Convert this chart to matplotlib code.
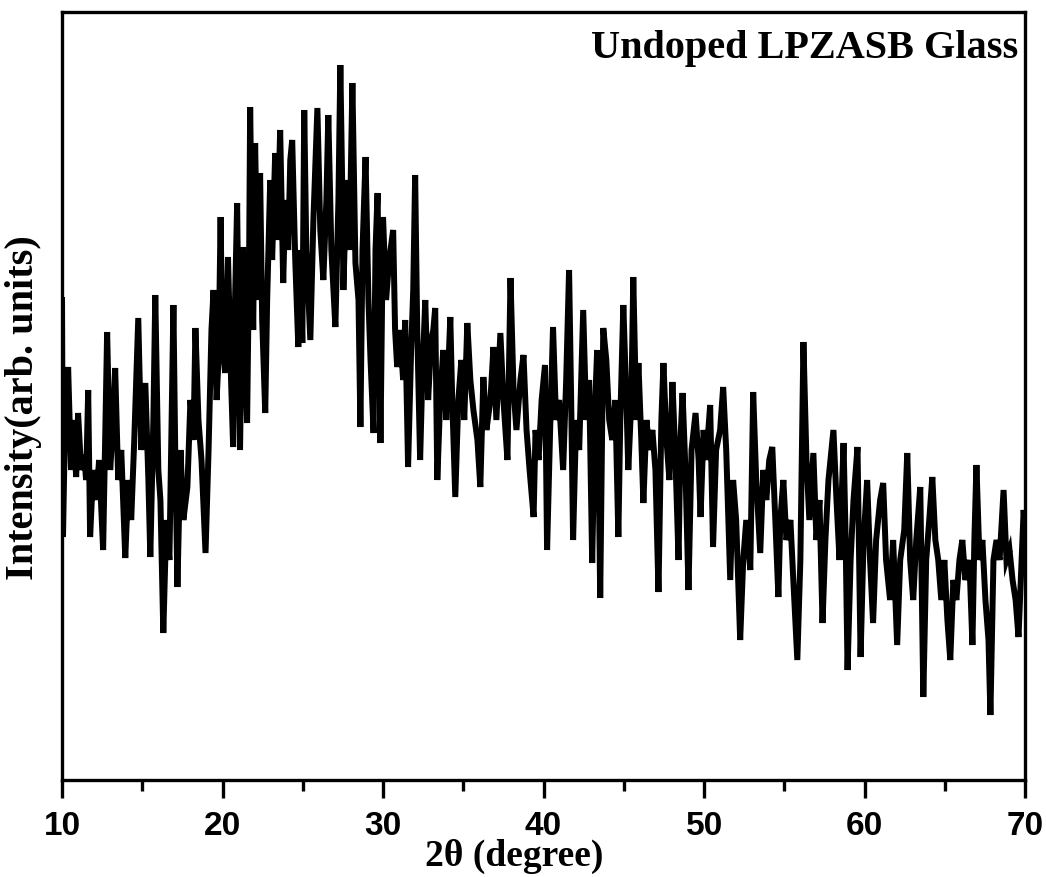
import matplotlib
matplotlib.use('Agg')
import matplotlib.pyplot as plt
from matplotlib.ticker import MultipleLocator

# 2theta positions (degree) and intensities (arb. units)
two_theta = [
    10.00, 10.06, 10.19, 10.38, 10.56, 10.69, 10.88, 11.00, 11.19, 11.38, 11.50, 11.63, 11.75, 11.94,
    12.13, 12.31, 12.56, 12.81, 13.00, 13.19, 13.31, 13.50, 13.69, 13.94, 14.13, 14.31, 14.50, 14.75,
    14.94, 15.19, 15.38, 15.50, 15.69, 15.81, 16.00, 16.13, 16.31, 16.50, 16.69, 16.94, 17.06, 17.19,
    17.38, 17.56, 17.81, 18.00, 18.19, 18.31, 18.50, 18.69, 18.94, 19.13, 19.31, 19.44, 19.63, 19.75,
    19.88, 19.97,
    20.16, 20.34, 20.53, 20.66, 20.78, 20.91, 21.03, 21.09, 21.22, 21.28, 21.41, 21.53, 21.66, 21.72,
    21.84, 21.91, 22.03, 22.16, 22.22, 22.34, 22.47, 22.66, 22.78, 22.97, 23.09, 23.28, 23.41, 23.59,
    23.78, 23.91, 24.09, 24.22, 24.34, 24.53, 24.72, 24.84, 24.97, 25.09, 25.22, 25.47, 25.66, 25.91,
    26.09, 26.28, 26.47, 26.59, 26.78, 27.03, 27.22, 27.34, 27.47, 27.53, 27.72, 27.91, 28.09, 28.28,
    28.47, 28.59, 28.72, 28.91, 29.09, 29.22, 29.41, 29.53, 29.66, 29.84,
    30.00, 30.19, 30.38, 30.63, 30.75, 30.88, 31.06, 31.25, 31.38, 31.56, 31.75, 31.88, 32.00, 32.13,
    32.31, 32.44, 32.63, 32.81, 33.00, 33.13, 33.25, 33.38, 33.56, 33.75, 33.94, 34.19, 34.31, 34.50,
    34.69, 34.88, 35.06, 35.25, 35.44, 35.63, 35.88, 36.06, 36.25, 36.44, 36.69, 36.88, 37.06, 37.31,
    37.50, 37.75, 37.94, 38.13, 38.31, 38.56, 38.75, 38.94, 39.13, 39.38, 39.50, 39.69, 39.88,
    40.09, 40.22, 40.41, 40.59, 40.78, 40.97, 41.22, 41.41, 41.59, 41.72, 41.84, 42.03, 42.22, 42.47,
    42.66, 42.84, 43.03, 43.22, 43.34, 43.53, 43.72, 43.91, 44.09, 44.28, 44.47, 44.66, 44.78, 44.97,
    45.16, 45.28, 45.47, 45.59, 45.78, 45.91, 46.09, 46.22, 46.41, 46.59, 46.78, 46.97, 47.16, 47.34,
    47.47, 47.66, 47.84, 48.03, 48.22, 48.41, 48.53, 48.66, 48.84, 49.03, 49.22, 49.47, 49.66, 49.78,
    49.97,
    50.13, 50.38, 50.56, 50.75, 51.00, 51.19, 51.38, 51.63, 51.81, 52.00, 52.25, 52.44, 52.63, 52.88,
    53.06, 53.25, 53.50, 53.69, 53.88, 54.06, 54.25, 54.44, 54.63, 54.75, 54.94, 55.13, 55.38, 55.56,
    55.81, 56.00, 56.19, 56.38, 56.56, 56.81, 57.00, 57.19, 57.38, 57.56, 57.75, 57.94, 58.06, 58.25,
    58.44, 58.69, 58.81, 58.94, 59.13, 59.31, 59.56, 59.75, 59.94,
    60.16, 60.34, 60.53, 60.72, 60.97, 61.16, 61.34, 61.59, 61.78, 62.03, 62.22, 62.47, 62.66, 62.84,
    63.03, 63.22, 63.47, 63.66, 63.84, 64.03, 64.22, 64.41, 64.59, 64.78, 64.97, 65.16, 65.34, 65.53,
    65.72, 65.91, 66.09, 66.28, 66.53, 66.72, 66.84, 66.97, 67.16, 67.34, 67.53, 67.72, 67.84, 68.03,
    68.22, 68.41, 68.66, 68.84, 69.03, 69.22, 69.41, 69.59, 69.78, 69.91, 70.00,
]
intensity = [
    480, 243, 360, 413, 310, 360, 303, 367, 310, 325, 300, 390, 243, 310,
    280, 320, 230, 448, 310, 360, 412, 300, 330, 222, 300, 260, 340, 462,
    330, 397, 300, 223, 360, 485, 310, 280, 147, 260, 220, 475, 320, 193,
    330, 260, 293, 380, 340, 452, 360, 320, 227, 330, 450, 490, 380, 420,
    563, 450,
    407, 523, 400, 333, 480, 577, 400, 330, 480, 533, 420, 357, 530, 673,
    530, 450, 637, 520, 480, 607, 460, 367, 480, 600, 520, 627, 540, 650,
    497, 580, 530, 620, 640, 520, 433, 530, 437, 670, 530, 440, 560, 672,
    550, 500, 580, 665, 530, 453, 580, 715, 580, 490, 600, 530, 697, 517,
    480, 353, 530, 623, 480, 420, 347, 530, 587, 337,
    563, 480, 520, 550, 450, 413, 450, 400, 460, 313, 430, 490, 605, 450,
    320, 400, 480, 380, 440, 450, 472, 300, 380, 430, 360, 463, 380, 283,
    380, 420, 360, 457, 400, 370, 340, 293, 403, 350, 380, 433, 360, 447,
    380, 320, 502, 390, 350, 400, 425, 350, 310, 263, 350, 320, 380,
    415, 230, 350, 453, 360, 380, 310, 400, 510, 380, 240, 360, 330, 470,
    360, 400, 217, 380, 430, 182, 452, 420, 360, 340, 380, 243, 360, 475,
    380, 310, 380, 503, 360, 417, 340, 277, 360, 330, 350, 310, 188, 360,
    417, 340, 300, 398, 320, 220, 340, 387, 310, 190, 330, 367, 320, 263,
    350,
    320, 375, 233, 330, 350, 393, 330, 200, 300, 260, 140, 220, 260, 210,
    388, 300, 227, 310, 280, 320, 333, 260, 183, 260, 300, 240, 260, 200,
    120, 220, 438, 320, 260, 327, 240, 280, 157, 240, 300, 330, 350, 280,
    220, 337, 250, 110, 220, 280, 333, 123, 240,
    300, 220, 157, 240, 280, 297, 220, 180, 240, 135, 220, 250, 327, 220,
    180, 240, 293, 83, 220, 260, 303, 240, 220, 180, 220, 160, 120, 200,
    180, 220, 240, 200, 220, 135, 240, 315, 220, 240, 180, 140, 65, 220,
    240, 220, 290, 220, 230, 200, 180, 143, 220, 270, 250,
]

x_ticks = [10, 20, 30, 40, 50, 60, 70]
sample_label = 'Undoped LPZASB Glass'

serif = ['Liberation Serif', 'DejaVu Serif']
sans = ['Liberation Sans', 'DejaVu Sans']

fig = plt.figure(figsize=(10.46, 8.77), dpi=100)
ax = fig.add_axes([0.0593, 0.1106, 0.9207, 0.8757])

ax.plot(two_theta, intensity, color='black', linewidth=4.3, solid_joinstyle='miter')

ax.set_xlim(10, 70)
ax.set_ylim(0, 768)
ax.set_xticks(x_ticks)
ax.xaxis.set_minor_locator(MultipleLocator(5))
ax.set_yticks([])

for s in ax.spines.values():
    s.set_linewidth(2.4)

ax.tick_params(axis='x', which='major', direction='out', length=13, width=2.4, pad=9)
ax.tick_params(axis='x', which='minor', direction='out', length=8, width=2.4)
for lab in ax.get_xticklabels():
    lab.set_family(sans)
    lab.set_fontweight('bold')
    lab.set_fontsize(24)

ax.set_xlabel('2θ (degree)', family=serif, fontweight='bold', fontsize=27)
ax.xaxis.set_label_coords(0.47, -0.077)
ax.xaxis.label.set_va('top')
ax.set_ylabel('Intensity(arb. units)', family=serif, fontweight='bold', fontsize=29)
ax.yaxis.set_label_coords(-0.021, 0.485)

ax.text(0.993, 0.977, sample_label, transform=ax.transAxes, ha='right', va='top',
        family=serif, fontweight='bold', fontsize=29)

fig.savefig('out.png', dpi=100)
